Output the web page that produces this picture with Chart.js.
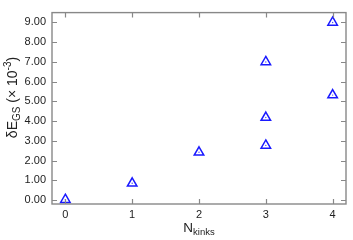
<!DOCTYPE html>
<html>
<head>
<meta charset="utf-8">
<script src="https://cdn.jsdelivr.net/npm/chart.js@4.4.0/dist/chart.umd.min.js"></script>
<style>
html,body{margin:0;padding:0;background:#fff;}
#wrap{width:353px;height:240px;position:relative;}
</style>
</head>
<body>
<div id="wrap"><canvas id="c" width="353" height="240"></canvas></div>
<script>
// Data
const nKinks = [0, 1, 2, 3, 3, 3, 4, 4];
const deltaEgs = [0.02, 0.85, 2.42, 2.77, 4.18, 7.0, 5.32, 9.0];
const xTickValues = [0, 1, 2, 3, 4];
const yTickValues = [0, 1, 2, 3, 4, 5, 6, 7, 8, 9];
const xTitleMain = 'N', xTitleSub = 'kinks';
const yTitleParts = [
  {t: 'δE', k: 'n'}, {t: 'GS', k: 'sub'}, {t: ' (× 10', k: 'n'}, {t: '-3', k: 'sup'}, {t: ')', k: 'n'}
];

const points = nKinks.map((x, i) => ({x: x, y: deltaEgs[i]}));
const FONT = '"Liberation Sans", Arial, sans-serif';
const AXIS_COLOR = '#888888';

const framePlugin = {
  id: 'frame',
  afterDraw(chart) {
    const ctx = chart.ctx;
    const a = chart.chartArea;
    const xs = chart.scales.x, ys = chart.scales.y;
    ctx.save();
    ctx.strokeStyle = AXIS_COLOR;
    ctx.lineWidth = 1.4;
    ctx.strokeRect(a.left, a.top, a.right - a.left, a.bottom - a.top);
    ctx.lineWidth = 1.2;
    const tl = 5;
    ctx.beginPath();
    xTickValues.forEach(v => {
      const px = Math.round(xs.getPixelForValue(v)) + 0.5;
      ctx.moveTo(px, a.bottom); ctx.lineTo(px, a.bottom - tl);
      ctx.moveTo(px, a.top); ctx.lineTo(px, a.top + tl);
    });
    yTickValues.forEach(v => {
      const py = Math.round(ys.getPixelForValue(v)) + 0.5;
      ctx.moveTo(a.left, py); ctx.lineTo(a.left + tl, py);
      ctx.moveTo(a.right, py); ctx.lineTo(a.right - tl, py);
    });
    ctx.stroke();

    // x title
    ctx.fillStyle = '#222';
    ctx.textBaseline = 'alphabetic';
    ctx.textAlign = 'left';
    const mainF = '13.5px ' + FONT, subF = '9.5px ' + FONT;
    ctx.font = mainF; const wN = ctx.measureText(xTitleMain).width;
    ctx.font = subF; const wS = ctx.measureText(xTitleSub).width;
    const cx = (a.left + a.right) / 2;
    let sx = cx - (wN + wS) / 2;
    ctx.font = mainF; ctx.fillText(xTitleMain, sx, 232);
    ctx.font = subF; ctx.fillText(xTitleSub, sx + wN, 235);

    // y title (rotated)
    const yMain = '14px ' + FONT, ySmall = '10px ' + FONT;
    let total = 0;
    const widths = yTitleParts.map(p => {
      ctx.font = p.k === 'n' ? yMain : ySmall;
      const w = ctx.measureText(p.t).width; total += w; return w;
    });
    ctx.save();
    ctx.translate(17, 97.5);
    ctx.rotate(-Math.PI / 2);
    let px = -total / 2;
    yTitleParts.forEach((p, i) => {
      ctx.font = p.k === 'n' ? yMain : ySmall;
      const dy = p.k === 'sub' ? 3 : (p.k === 'sup' ? -6 : 0);
      ctx.fillText(p.t, px, dy);
      px += widths[i];
    });
    ctx.restore();
    ctx.restore();
  }
};

new Chart(document.getElementById('c'), {
  type: 'scatter',
  data: {
    datasets: [
      {
        data: points,
        pointStyle: 'triangle',
        pointRadius: 5.5,
        pointHoverRadius: 5.5,
        borderColor: '#1a1aff',
        backgroundColor: 'rgba(0,0,0,0)',
        pointBorderWidth: 1.5
      },
      {
        data: points,
        pointStyle: 'circle',
        pointRadius: 0.7,
        borderWidth: 0,
        pointBorderWidth: 0,
        backgroundColor: '#4a4aff'
      }
    ]
  },
  options: {
    responsive: false,
    animation: false,
    events: [],
    layout: {padding: {top: 3, right: 4, left: 0, bottom: 0}},
    plugins: {legend: {display: false}, tooltip: {enabled: false}},
    scales: {
      x: {
        type: 'linear', min: -0.2, max: 4.2,
        afterBuildTicks: s => { s.ticks = xTickValues.map(v => ({value: v})); },
        afterFit: s => { s.height = 36; },
        grid: {display: false, drawTicks: false},
        border: {display: false},
        ticks: {padding: 4, color: '#222', font: {family: FONT, size: 11}, callback: v => String(v)}
      },
      y: {
        type: 'linear', min: -0.2, max: 9.5,
        afterBuildTicks: s => { s.ticks = yTickValues.map(v => ({value: v})); },
        afterFit: s => { s.width = 52; },
        grid: {display: false, drawTicks: false},
        border: {display: false},
        ticks: {padding: 6, color: '#222', font: {family: FONT, size: 11}, callback: v => Number(v).toFixed(2)}
      }
    }
  },
  plugins: [framePlugin]
});
</script>
</body>
</html>
